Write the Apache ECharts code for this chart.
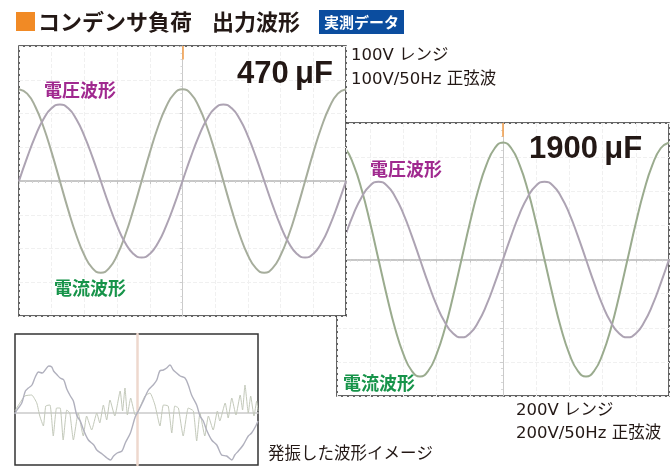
<!DOCTYPE html>
<html><head><meta charset="utf-8">
<script src="https://cdn.jsdelivr.net/npm/echarts@6/dist/echarts.min.js"></script>
<style>html,body{margin:0;padding:0;background:#fff}#c{width:671px;height:468px}</style>
</head><body><div id="c"></div>
<script>
// time axis (ms), 1 ms steps across two 50 Hz periods
const timeMs = [-20,-19,-18,-17,-16,-15,-14,-13,-12,-11,-10,-9,-8,-7,-6,-5,-4,-3,-2,-1,0,1,2,3,4,5,6,7,8,9,10,11,12,13,14,15,16,17,18,19,20];
// 470 uF panel (vertical divisions)
const current470 = [2.72,2.59,2.20,1.60,0.84,0,-0.84,-1.60,-2.20,-2.59,-2.72,-2.59,-2.20,-1.60,-0.84,0,0.84,1.60,2.20,2.59,2.72,2.59,2.20,1.60,0.84,0,-0.84,-1.60,-2.20,-2.59,-2.72,-2.59,-2.20,-1.60,-0.84,0,0.84,1.60,2.20,2.59,2.72];
const voltage470 = [0,0.70,1.33,1.84,2.16,2.27,2.16,1.84,1.33,0.70,0,-0.70,-1.33,-1.84,-2.16,-2.27,-2.16,-1.84,-1.33,-0.70,0,0.70,1.33,1.84,2.16,2.27,2.16,1.84,1.33,0.70,0,-0.70,-1.33,-1.84,-2.16,-2.27,-2.16,-1.84,-1.33,-0.70,0];
// 1900 uF panel
const current1900 = [3.43,3.26,2.77,2.02,1.06,0,-1.06,-2.02,-2.77,-3.26,-3.43,-3.26,-2.77,-2.02,-1.06,0,1.06,2.02,2.77,3.26,3.43,3.26,2.77,2.02,1.06,0,-1.06,-2.02,-2.77,-3.26,-3.43,-3.26,-2.77,-2.02,-1.06,0,1.06,2.02,2.77,3.26,3.43];
const voltage1900 = [0,0.70,1.34,1.84,2.17,2.28,2.17,1.84,1.34,0.70,0,-0.70,-1.34,-1.84,-2.17,-2.28,-2.17,-1.84,-1.34,-0.70,0,0.70,1.34,1.84,2.17,2.28,2.17,1.84,1.34,0.70,0,-0.70,-1.34,-1.84,-2.17,-2.28,-2.17,-1.84,-1.34,-0.70,0];
// oscillation image panel: [ms, level]
const oscMain = [[-20.33,-1],[-20.0,3],[-19.2,10],[-18.6,22],[-18.1,25],[-17.5,28],[-16.95,36],[-16.4,41],[-15.8,40],[-15.3,43],[-14.7,47],[-14.2,46],[-13.9,42],[-13.3,38],[-12.8,35],[-12.2,33],[-11.7,24],[-11.1,17],[-10.6,12],[-10.0,-3],[-9.45,-8],[-8.9,-17],[-8.1,-27],[-7.2,-32],[-6.7,-37],[-5.8,-41],[-5.0,-45],[-4.45,-47],[-3.9,-43],[-3.3,-40],[-2.5,-38],[-1.95,-30],[-1.1,-20],[-0.3,-4],
  [0.22,2],[1.05,12],[1.9,23],[2.7,28],[3.3,33],[3.8,42],[4.4,43],[4.95,45],[5.5,48],[6.05,43],[6.6,40],[7.2,37],[8.0,35],[8.55,28],[9.1,18],[9.95,8],[10.5,-3],[11.05,-8],[11.6,-17],[12.45,-27],[13.3,-32],[14.1,-42],[14.95,-43],[15.8,-47],[16.3,-42],[16.9,-38],[17.7,-32],[18.55,-23],[19.1,-20],[19.8,-13],[20.17,-8]];
const oscRipple = [[-20.33,2],[-20.05,5],[-18.7,17],[-17.55,18],[-16.7,10],[-16.2,-3],[-15.6,-13],[-15.2,7],[-14.5,8],[-13.95,-23],[-13.4,5],[-12.8,5],[-12.3,-27],[-11.7,3],[-11.2,0],[-10.6,-27],[-9.8,0],[-8.95,-23],[-8.4,-3],[-7.55,-17],[-6.7,0],[-6.2,-10],[-5.6,8],[-5.05,-7],[-4.5,13],[-3.7,-3],[-2.8,22],[-2.4,2],[-2.0,25],[-1.6,-2],[-1.05,15],[-0.3,-2],
  [0.22,2],[1.33,17],[2.17,20],[3.0,8],[3.83,-13],[4.4,8],[5.2,7],[5.8,-20],[6.3,7],[6.9,5],[7.7,-23],[8.55,5],[9.4,2],[9.95,-28],[10.5,0],[11.3,-23],[11.9,-3],[12.7,-17],[13.4,2],[13.8,-8],[14.7,10],[15.2,-5],[15.8,15],[16.5,-2],[17.2,18],[17.6,3],[18.0,28],[18.55,0],[18.95,17],[19.5,-3],[19.95,12],[20.17,2]];
const panelTitles = ['470\u2009μF','1900\u2009μF'];
const waveNames = ['電圧波形','電流波形'];
const rangeNotes = [['100V レンジ','100V/50Hz 正弦波'],['200V レンジ','200V/50Hz 正弦波']];
const heading = ['コンデンサ負荷','出力波形'];
const badge = '実測データ';
const oscNote = '発振した波形イメージ';

const JP = '"Noto Sans CJK JP", "Noto Sans", sans-serif';
const NOTE = '"DejaVu Sans", "Noto Sans CJK JP", sans-serif';
const LAT = '"Liberation Sans", Arial, sans-serif';
const chart = echarts.init(document.getElementById('c'), null, {renderer:'canvas'});
const pairs = (xs, ys) => xs.map((t,i)=>[t, ys[i]]);

function scopeX(gi, z) {
  return {type:'value', gridIndex:gi, min:-20, max:20, interval:4, z:z,
    axisLabel:{show:false}, axisLine:{show:true,onZero:true,lineStyle:{color:'#b6b6b6',width:1.5}},
    axisTick:{show:true,length:3,lineStyle:{color:'#c4c4c4'}},
    minorTick:{show:true,splitNumber:5,length:2,lineStyle:{color:'#d0d0d0'}},
    splitLine:{show:true,lineStyle:{color:'#f0f0f0',type:'dashed'}}};
}
function scopeY(gi, z) {
  return {type:'value', gridIndex:gi, min:-4, max:4, interval:1, z:z,
    axisLabel:{show:false}, axisLine:{show:true,onZero:true,lineStyle:{color:'#cacaca',width:1}},
    axisTick:{show:true,length:3,lineStyle:{color:'#cfcfcf'}},
    minorTick:{show:true,splitNumber:5,length:2,lineStyle:{color:'#d8d8d8'}},
    splitLine:{show:true,lineStyle:{color:'#f0f0f0',type:'dashed'}}};
}
const trig = {silent:true, symbol:'none', label:{show:false},
  lineStyle:{color:'#f2a65a',width:2,type:'solid',opacity:0.85},
  data:[[{coord:[0,4]},{coord:[0,3.6]}]]};

const option = {
  animation:false,
  backgroundColor:'#ffffff',
  grid:[
    {left:19, top:46, width:327, height:270, show:true, backgroundColor:'#ffffff', borderColor:'#333333', borderWidth:1.5, z:3, outerBoundsMode:'none'},
    {left:337, top:123, width:332, height:273, show:true, backgroundColor:'#ffffff', borderColor:'#333333', borderWidth:1.5, z:0, outerBoundsMode:'none'},
    {left:15, top:334, width:243, height:131, show:true, backgroundColor:'#ffffff', borderColor:'#333333', borderWidth:1.5, z:0, outerBoundsMode:'none'}
  ],
  xAxis:[
    scopeX(0,4), scopeX(1,1),
    {type:'value', gridIndex:2, min:-20.33, max:20.17, z:1, axisLabel:{show:false},
     axisLine:{show:true,onZero:true,lineStyle:{color:'#cacaca',width:1.5}}, axisTick:{show:false}, splitLine:{show:false}}
  ],
  yAxis:[
    scopeY(0,4), scopeY(1,1),
    {type:'value', gridIndex:2, min:-52, max:79, z:1, axisLabel:{show:false},
     axisLine:{show:true,onZero:true,lineStyle:{color:'#eed8ce',width:2.5}}, axisTick:{show:false}, splitLine:{show:false}}
  ],
  series:[
    {type:'line', name:'current470', xAxisIndex:0, yAxisIndex:0, z:5, silent:true, showSymbol:false, smooth:true,
     data:pairs(timeMs,current470), lineStyle:{color:'#a6ad9c',width:2}, markLine:trig},
    {type:'line', name:'voltage470', xAxisIndex:0, yAxisIndex:0, z:5, silent:true, showSymbol:false, smooth:true,
     data:pairs(timeMs,voltage470), lineStyle:{color:'#ada3b3',width:2}},
    {type:'line', name:'current1900', xAxisIndex:1, yAxisIndex:1, z:2, silent:true, showSymbol:false, smooth:true,
     data:pairs(timeMs,current1900), lineStyle:{color:'#9aab8e',width:2}, markLine:trig},
    {type:'line', name:'voltage1900', xAxisIndex:1, yAxisIndex:1, z:2, silent:true, showSymbol:false, smooth:true,
     data:pairs(timeMs,voltage1900), lineStyle:{color:'#ada3b3',width:2}},
    {type:'line', name:'oscRipple', xAxisIndex:2, yAxisIndex:2, z:2, silent:true, showSymbol:false, smooth:0.15,
     data:oscRipple, lineStyle:{color:'#c3c9ba',width:1}},
    {type:'line', name:'oscMain', xAxisIndex:2, yAxisIndex:2, z:2, silent:true, showSymbol:false, smooth:0.3,
     data:oscMain, lineStyle:{color:'#b0b0bd',width:1.4}}
  ],
  graphic:[
    {type:'rect', z:20, shape:{x:16,y:12,width:19,height:19}, style:{fill:'#f18a25'}},
    {type:'text', z:20, x:38, y:22, style:{text:heading[0], font:'bold 22px '+JP, fill:'#231815', verticalAlign:'middle'}},
    {type:'text', z:20, x:212, y:22, style:{text:heading[1], font:'bold 22px '+JP, fill:'#231815', verticalAlign:'middle'}},
    {type:'rect', z:20, shape:{x:319,y:10,width:85,height:24}, style:{fill:'#0b4d9f'}},
    {type:'text', z:21, x:361.5, y:22.5, style:{text:badge, font:'bold 15px '+JP, fill:'#ffffff', align:'center', verticalAlign:'middle'}},
    {type:'text', z:20, x:351, y:56, style:{text:rangeNotes[0][0], font:'16.5px '+NOTE, fill:'#231815', verticalAlign:'middle'}},
    {type:'text', z:20, x:351, y:80, style:{text:rangeNotes[0][1], font:'16.5px '+NOTE, fill:'#231815', verticalAlign:'middle'}},
    {type:'text', z:20, x:516, y:411, style:{text:rangeNotes[1][0], font:'16.5px '+NOTE, fill:'#231815', verticalAlign:'middle'}},
    {type:'text', z:20, x:516, y:434, style:{text:rangeNotes[1][1], font:'16.5px '+NOTE, fill:'#231815', verticalAlign:'middle'}},
    {type:'text', z:20, x:268, y:453, style:{text:oscNote, font:'16.5px '+JP, fill:'#231815', verticalAlign:'middle'}},
    {type:'text', z:20, x:237, y:74, style:{text:panelTitles[0], font:'bold 31px '+LAT, fill:'#231815', verticalAlign:'middle'}},
    {type:'text', z:20, x:44, y:90, style:{text:waveNames[0], font:'bold 18px '+JP, fill:'#a0298f', verticalAlign:'middle'}},
    {type:'text', z:20, x:54, y:288, style:{text:waveNames[1], font:'bold 18px '+JP, fill:'#17944a', verticalAlign:'middle'}},
    {type:'text', z:8, x:529, y:149, style:{text:panelTitles[1], font:'bold 31px '+LAT, fill:'#231815', verticalAlign:'middle'}},
    {type:'text', z:8, x:370, y:169, style:{text:waveNames[0], font:'bold 18px '+JP, fill:'#a0298f', verticalAlign:'middle'}},
    {type:'text', z:8, x:343, y:383, style:{text:waveNames[1], font:'bold 18px '+JP, fill:'#17944a', verticalAlign:'middle'}}
  ]
};
chart.setOption(option);
</script>
</body></html>
